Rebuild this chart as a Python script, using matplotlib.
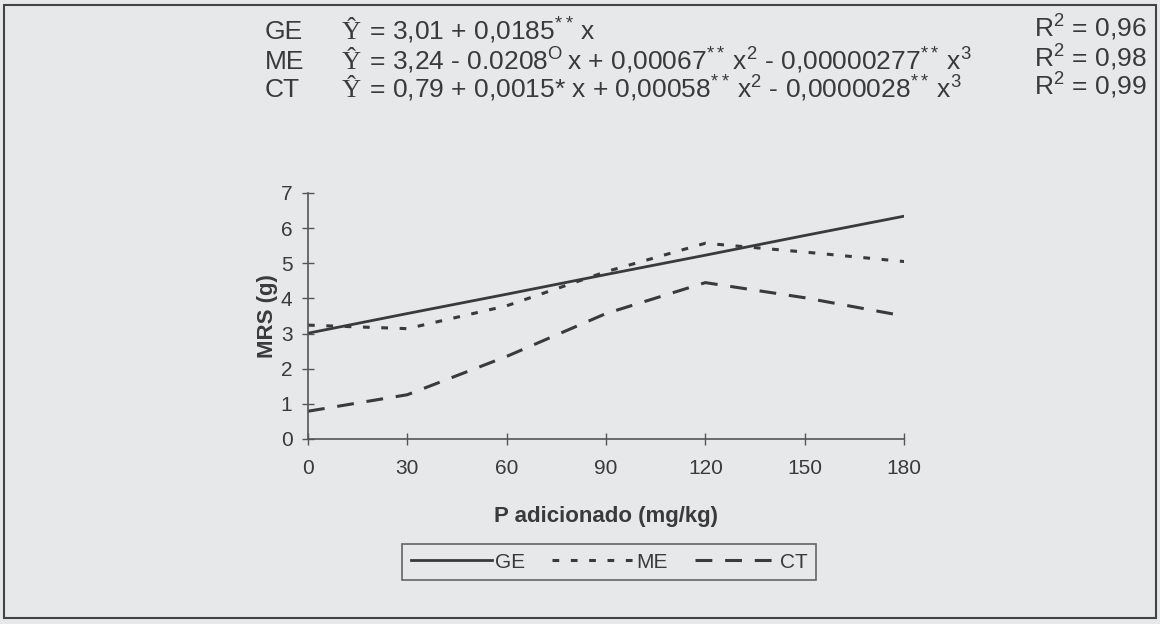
import matplotlib.pyplot as plt
from matplotlib.patches import Rectangle

# doses de P (mg/kg) e MRS (g)
doses = [0, 30, 60, 90, 120, 150, 180]
mrs_ge = [3.01, 3.57, 4.12, 4.68, 5.23, 5.79, 6.34]
mrs_me = [3.24, 3.14, 3.79, 4.76, 5.57, 5.32, 5.05]
mrs_ct = [0.79, 1.26, 2.35, 3.57, 4.45, 4.02, 3.50]

trat = ['GE', 'ME', 'CT']
equacoes = [
    r' = 3,01 + 0,0185$^{\mathrm{**}}\,$x',
    r' = 3,24 - 0.0208$^{\mathrm{O}}\,$x + 0,00067$^{\mathrm{**}}\,$x$^{2}$ - 0,00000277$^{\mathrm{**}}\,$x$^{3}$',
    r' = 0,79 + 0,0015* x + 0,00058$^{\mathrm{**}}\,$x$^{2}$ - 0,0000028$^{\mathrm{**}}\,$x$^{3}$',
]
r2 = ['0,96', '0,98', '0,99']

plt.rcParams['font.family'] = ['Liberation Sans', 'DejaVu Sans']
plt.rcParams['mathtext.fontset'] = 'custom'
plt.rcParams['mathtext.rm'] = 'Liberation Sans'

bg = '#e6e8ea'
ink = '#3a3a3a'

fig = plt.figure(figsize=(11.6, 6.24), dpi=100, facecolor=bg)
W, H = 1160, 624
ax = fig.add_axes([308 / W, (H - 439) / H, (904 - 308) / W, (439 - 193) / H])
ax.set_facecolor(bg)

ax.plot(doses, mrs_ge, color=ink, lw=2.0, ls='-', label='GE')
ax.plot(doses, mrs_me, color=ink, lw=2.2, ls=(0, (2.2, 3.8)), label='ME')
ax.plot(doses, mrs_ct, color=ink, lw=2.2, ls=(0, (5.5, 4.2)), label='CT')

ax.set_xlim(0, 180)
ax.set_ylim(0, 7)
ax.set_xticks(doses)
ax.set_yticks(range(8))
for s in ['top', 'right']:
    ax.spines[s].set_visible(False)
for s in ['left', 'bottom']:
    ax.spines[s].set_color('#555555')
    ax.spines[s].set_linewidth(1.2)
ax.tick_params(direction='inout', length=8.5, width=1.0, color='#555555',
               labelsize=15, labelcolor=ink)
ax.tick_params(axis='y', pad=7)
ax.tick_params(axis='x', pad=10)
ax.set_ylabel('MRS (g)', fontsize=16, fontweight='bold', color=ink, labelpad=2)
ax.set_xlabel('P adicionado (mg/kg)', fontsize=16, fontweight='bold', color=ink, labelpad=20)

leg = ax.legend(ncol=3, loc='center', bbox_to_anchor=(609 / W, (H - 562) / H),
                bbox_transform=fig.transFigure, frameon=True, fancybox=False,
                fontsize=15, handlelength=3.9, handletextpad=0.15, columnspacing=1.3,
                borderpad=0.4, labelcolor=ink)
leg.get_frame().set_edgecolor('#444444')
leg.get_frame().set_facecolor(bg)
leg.get_frame().set_linewidth(1.2)

# cabecalho com as equacoes
linhas_y = [39, 69, 97]
for t, eq, r, yy in zip(trat, equacoes, r2, linhas_y):
    fy = (H - yy) / H
    fig.text(265 / W, fy, t, fontsize=19, color=ink, va='baseline')
    fig.text(342 / W, fy, '\u0176', fontsize=19, color=ink, va='baseline',
             family=['Liberation Serif', 'DejaVu Serif'])
    fig.text(362 / W, fy, eq, fontsize=19, color=ink, va='baseline')
    fig.text(1147 / W, (H - yy + 3) / H, r'R$^{2}$ = ' + r, fontsize=19, color=ink,
             va='baseline', ha='right')

fig.patches.append(Rectangle((4 / W, (H - 618) / H), 1152 / W, 613 / H,
                             transform=fig.transFigure, fill=False,
                             edgecolor='#444444', lw=1.5))

fig.savefig('out.png', dpi=100, facecolor=bg)
